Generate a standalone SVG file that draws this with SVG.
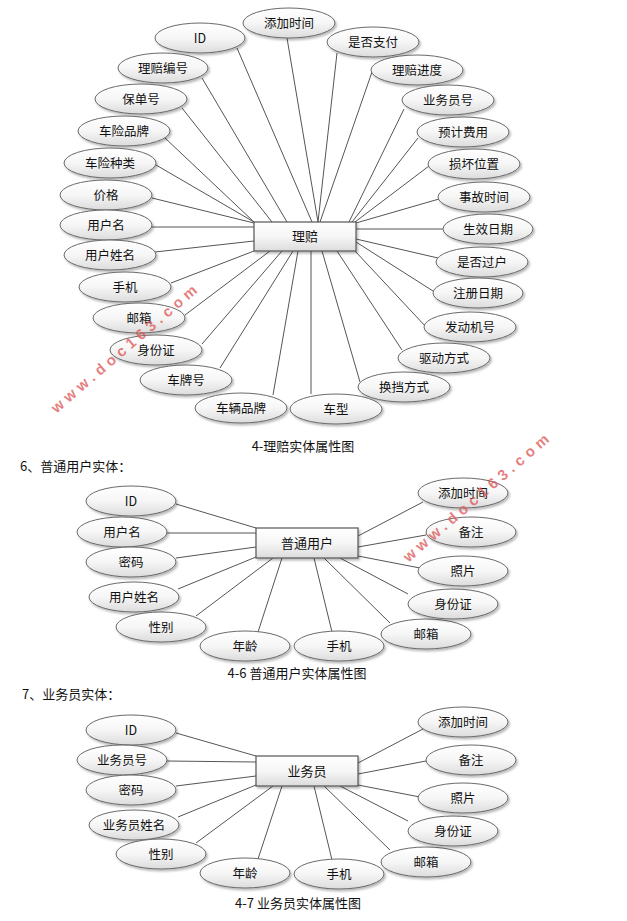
<svg xmlns="http://www.w3.org/2000/svg" width="627" height="921" viewBox="0 0 627 921">
<defs>
<linearGradient id="g" x1="0" y1="0" x2="0" y2="1">
<stop offset="0" stop-color="#ffffff"/>
<stop offset="0.5" stop-color="#f6f6f6"/>
<stop offset="1" stop-color="#dcdcdc"/>
</linearGradient>
<filter id="sh" x="-20%" y="-30%" width="150%" height="180%">
<feDropShadow dx="1.5" dy="2" stdDeviation="1.2" flood-color="#000" flood-opacity="0.28"/>
</filter>
</defs>
<style>
.e{fill:url(#g);stroke:#6a6a6a;stroke-width:1;filter:url(#sh)}
.r{fill:url(#g);stroke:#555;stroke-width:1.2;filter:url(#sh)}
.t{font-family:"Noto Sans CJK SC","Liberation Sans",sans-serif;font-size:12.5px;fill:#111;text-anchor:middle}
.rt{font-family:"Noto Sans CJK SC","Liberation Sans",sans-serif;font-size:13px;fill:#111;text-anchor:middle}
.cap{font-family:"Noto Sans CJK SC","Liberation Sans",sans-serif;font-size:13px;fill:#111}
.c line{stroke:#555;stroke-width:1}
.wm{font-family:"Liberation Sans",sans-serif;font-weight:bold;font-size:15px;fill:#dd5555;fill-opacity:0.75;text-anchor:middle}
</style>
<rect width="627" height="921" fill="#fff"/>

<g id="connectors" class="c">
<!-- diagram 1 -->
<line x1="237" y1="48" x2="312" y2="222"/>
<line x1="287" y1="38" x2="318" y2="222"/>
<line x1="337" y1="53" x2="318" y2="222"/>
<line x1="372" y1="72" x2="320" y2="222"/>
<line x1="202" y1="78" x2="287" y2="222"/>
<line x1="182" y1="108" x2="272" y2="222"/>
<line x1="165" y1="138" x2="254" y2="222"/>
<line x1="156" y1="165" x2="254" y2="222"/>
<line x1="152" y1="198" x2="254" y2="223"/>
<line x1="152" y1="227" x2="254" y2="227"/>
<line x1="155" y1="252" x2="254" y2="241"/>
<line x1="171" y1="283" x2="254" y2="251"/>
<line x1="185" y1="315" x2="270" y2="251"/>
<line x1="202" y1="344" x2="282" y2="251"/>
<line x1="220" y1="368" x2="293" y2="251"/>
<line x1="273" y1="395" x2="298" y2="251"/>
<line x1="311" y1="394" x2="311" y2="251"/>
<line x1="360" y1="382" x2="322" y2="251"/>
<line x1="402" y1="350" x2="337" y2="251"/>
<line x1="427" y1="328" x2="355" y2="251"/>
<line x1="433" y1="291" x2="356" y2="242"/>
<line x1="438" y1="258" x2="356" y2="239"/>
<line x1="443" y1="229" x2="356" y2="229"/>
<line x1="439" y1="199" x2="356" y2="223"/>
<line x1="429" y1="166" x2="355" y2="222"/>
<line x1="418" y1="138" x2="352" y2="222"/>
<line x1="404" y1="109" x2="349" y2="222"/>
<!-- diagram 2 -->
<line x1="176" y1="504" x2="256" y2="528"/>
<line x1="167" y1="533" x2="256" y2="533"/>
<line x1="176" y1="558" x2="256" y2="547"/>
<line x1="178" y1="589" x2="256" y2="557"/>
<line x1="196" y1="616" x2="273" y2="558"/>
<line x1="258" y1="632" x2="282" y2="558"/>
<line x1="332" y1="632" x2="314" y2="558"/>
<line x1="390" y1="623" x2="324" y2="558"/>
<line x1="408" y1="594" x2="340" y2="558"/>
<line x1="420" y1="568" x2="358" y2="556"/>
<line x1="426" y1="535" x2="358" y2="547"/>
<line x1="423" y1="502" x2="358" y2="536"/>
<!-- diagram 3 -->
<line x1="176" y1="733" x2="256" y2="756"/>
<line x1="167" y1="761" x2="256" y2="762"/>
<line x1="176" y1="786" x2="256" y2="776"/>
<line x1="178" y1="817" x2="256" y2="785"/>
<line x1="196" y1="843" x2="273" y2="786"/>
<line x1="258" y1="859" x2="282" y2="786"/>
<line x1="332" y1="860" x2="314" y2="786"/>
<line x1="390" y1="850" x2="324" y2="786"/>
<line x1="408" y1="821" x2="340" y2="786"/>
<line x1="420" y1="797" x2="358" y2="785"/>
<line x1="426" y1="761" x2="358" y2="774"/>
<line x1="423" y1="729" x2="358" y2="763"/>
</g>

<!-- diagram 1 nodes -->
<g id="lipei"><rect class="r" x="254" y="222" width="102" height="29"/><text class="rt" x="305" y="241">理赔</text></g>
<g id="d1-id"><ellipse class="e" cx="200" cy="38" rx="45" ry="15"/><text class="t" x="200" y="43">ID</text></g>
<g id="d1-tjsj"><ellipse class="e" cx="289" cy="23" rx="46" ry="15"/><text class="t" x="289" y="28">添加时间</text></g>
<g id="d1-sfzf"><ellipse class="e" cx="373" cy="42" rx="46" ry="15"/><text class="t" x="373" y="47">是否支付</text></g>
<g id="d1-lpjd"><ellipse class="e" cx="417" cy="70" rx="46" ry="15"/><text class="t" x="417" y="75">理赔进度</text></g>
<g id="d1-lpbh"><ellipse class="e" cx="163" cy="68" rx="45" ry="15"/><text class="t" x="163" y="73">理赔编号</text></g>
<g id="d1-bdh"><ellipse class="e" cx="141" cy="99" rx="46" ry="15"/><text class="t" x="141" y="104">保单号</text></g>
<g id="d1-ywyh"><ellipse class="e" cx="448" cy="100" rx="46" ry="15"/><text class="t" x="448" y="105">业务员号</text></g>
<g id="d1-xppp"><ellipse class="e" cx="124" cy="131" rx="46" ry="15"/><text class="t" x="124" y="136">车险品牌</text></g>
<g id="d1-yjfy"><ellipse class="e" cx="463" cy="132" rx="46" ry="15"/><text class="t" x="463" y="137">预计费用</text></g>
<g id="d1-xxzl"><ellipse class="e" cx="110" cy="163" rx="46" ry="15"/><text class="t" x="110" y="168">车险种类</text></g>
<g id="d1-shwz"><ellipse class="e" cx="474" cy="164" rx="46" ry="15"/><text class="t" x="474" y="169">损坏位置</text></g>
<g id="d1-jg"><ellipse class="e" cx="106" cy="195" rx="46" ry="15"/><text class="t" x="106" y="200">价格</text></g>
<g id="d1-sgsj"><ellipse class="e" cx="484" cy="197" rx="46" ry="15"/><text class="t" x="484" y="202">事故时间</text></g>
<g id="d1-yhm"><ellipse class="e" cx="106" cy="225" rx="46" ry="15"/><text class="t" x="106" y="230">用户名</text></g>
<g id="d1-sxrq"><ellipse class="e" cx="488" cy="229" rx="45" ry="15"/><text class="t" x="488" y="234">生效日期</text></g>
<g id="d1-yhxm"><ellipse class="e" cx="110" cy="255" rx="46" ry="15"/><text class="t" x="110" y="260">用户姓名</text></g>
<g id="d1-sfgh"><ellipse class="e" cx="482" cy="262" rx="46" ry="15"/><text class="t" x="482" y="267">是否过户</text></g>
<g id="d1-sj"><ellipse class="e" cx="125" cy="287" rx="46" ry="15"/><text class="t" x="125" y="292">手机</text></g>
<g id="d1-zcrq"><ellipse class="e" cx="478" cy="293" rx="45" ry="15"/><text class="t" x="478" y="298">注册日期</text></g>
<g id="d1-yx"><ellipse class="e" cx="139" cy="318" rx="46" ry="15"/><text class="t" x="139" y="323">邮箱</text></g>
<g id="d1-fdjh"><ellipse class="e" cx="470" cy="327" rx="46" ry="15"/><text class="t" x="470" y="332">发动机号</text></g>
<g id="d1-sfz"><ellipse class="e" cx="156" cy="350" rx="46" ry="15"/><text class="t" x="156" y="355">身份证</text></g>
<g id="d1-qdfs"><ellipse class="e" cx="444" cy="358" rx="46" ry="15"/><text class="t" x="444" y="363">驱动方式</text></g>
<g id="d1-cph"><ellipse class="e" cx="186" cy="380" rx="46" ry="15"/><text class="t" x="186" y="385">车牌号</text></g>
<g id="d1-hdfs"><ellipse class="e" cx="404" cy="387" rx="46" ry="15"/><text class="t" x="404" y="392">换挡方式</text></g>
<g id="d1-clpp"><ellipse class="e" cx="241" cy="408" rx="46" ry="15"/><text class="t" x="241" y="413">车辆品牌</text></g>
<g id="d1-cx"><ellipse class="e" cx="336" cy="409" rx="46" ry="15"/><text class="t" x="336" y="414">车型</text></g>

<text class="cap" x="303" y="451" text-anchor="middle">4-理赔实体属性图</text>
<text class="cap" x="20" y="471">6、普通用户实体：</text>

<!-- diagram 2 nodes -->
<g id="ptyh"><rect class="r" x="256" y="528" width="102" height="30"/><text class="rt" x="307" y="548">普通用户</text></g>
<g id="d2-id"><ellipse class="e" cx="131" cy="501" rx="45" ry="15"/><text class="t" x="131" y="506">ID</text></g>
<g id="d2-yhm"><ellipse class="e" cx="122" cy="532" rx="45" ry="15"/><text class="t" x="122" y="537">用户名</text></g>
<g id="d2-mm"><ellipse class="e" cx="131" cy="562" rx="45" ry="15"/><text class="t" x="131" y="567">密码</text></g>
<g id="d2-yhxm"><ellipse class="e" cx="134" cy="597" rx="45" ry="15"/><text class="t" x="134" y="602">用户姓名</text></g>
<g id="d2-xb"><ellipse class="e" cx="161" cy="627" rx="45" ry="15"/><text class="t" x="161" y="632">性别</text></g>
<g id="d2-nl"><ellipse class="e" cx="245" cy="646" rx="45" ry="15"/><text class="t" x="245" y="651">年龄</text></g>
<g id="d2-sj"><ellipse class="e" cx="339" cy="646" rx="45" ry="15"/><text class="t" x="339" y="651">手机</text></g>
<g id="d2-yx"><ellipse class="e" cx="426" cy="634" rx="45" ry="15"/><text class="t" x="426" y="639">邮箱</text></g>
<g id="d2-sfz"><ellipse class="e" cx="453" cy="604" rx="45" ry="15"/><text class="t" x="453" y="609">身份证</text></g>
<g id="d2-zp"><ellipse class="e" cx="463" cy="571" rx="45" ry="15"/><text class="t" x="463" y="576">照片</text></g>
<g id="d2-bz"><ellipse class="e" cx="471" cy="532" rx="45" ry="15"/><text class="t" x="471" y="537">备注</text></g>
<g id="d2-tjsj"><ellipse class="e" cx="463" cy="493" rx="45" ry="15"/><text class="t" x="463" y="498">添加时间</text></g>

<text class="cap" x="297" y="678" text-anchor="middle">4-6 普通用户实体属性图</text>
<text class="cap" x="22" y="699">7、业务员实体：</text>

<!-- diagram 3 nodes -->
<g id="ywy"><rect class="r" x="256" y="756" width="102" height="30"/><text class="rt" x="307" y="776">业务员</text></g>
<g id="d3-id"><ellipse class="e" cx="131" cy="730" rx="45" ry="15"/><text class="t" x="131" y="735">ID</text></g>
<g id="d3-ywyh"><ellipse class="e" cx="122" cy="760" rx="45" ry="15"/><text class="t" x="122" y="765">业务员号</text></g>
<g id="d3-mm"><ellipse class="e" cx="131" cy="790" rx="45" ry="15"/><text class="t" x="131" y="795">密码</text></g>
<g id="d3-ywyxm"><ellipse class="e" cx="134" cy="825" rx="45" ry="15"/><text class="t" x="134" y="830">业务员姓名</text></g>
<g id="d3-xb"><ellipse class="e" cx="161" cy="854" rx="45" ry="15"/><text class="t" x="161" y="859">性别</text></g>
<g id="d3-nl"><ellipse class="e" cx="245" cy="873" rx="45" ry="15"/><text class="t" x="245" y="878">年龄</text></g>
<g id="d3-sj"><ellipse class="e" cx="339" cy="874" rx="45" ry="15"/><text class="t" x="339" y="879">手机</text></g>
<g id="d3-yx"><ellipse class="e" cx="426" cy="862" rx="45" ry="15"/><text class="t" x="426" y="867">邮箱</text></g>
<g id="d3-sfz"><ellipse class="e" cx="453" cy="831" rx="45" ry="15"/><text class="t" x="453" y="836">身份证</text></g>
<g id="d3-zp"><ellipse class="e" cx="463" cy="798" rx="45" ry="15"/><text class="t" x="463" y="803">照片</text></g>
<g id="d3-bz"><ellipse class="e" cx="471" cy="760" rx="45" ry="15"/><text class="t" x="471" y="765">备注</text></g>
<g id="d3-tjsj"><ellipse class="e" cx="463" cy="722" rx="45" ry="15"/><text class="t" x="463" y="727">添加时间</text></g>

<text class="cap" x="298" y="908" text-anchor="middle">4-7 业务员实体属性图</text>

<!-- watermarks -->
<text class="wm" transform="translate(124,349) rotate(-40.7)" x="0" y="5" textLength="187" lengthAdjust="spacing">www.doc163.com</text>
<text class="wm" transform="translate(476,498) rotate(-40.7)" x="0" y="5" textLength="187" lengthAdjust="spacing">www.doc163.com</text>
</svg>
